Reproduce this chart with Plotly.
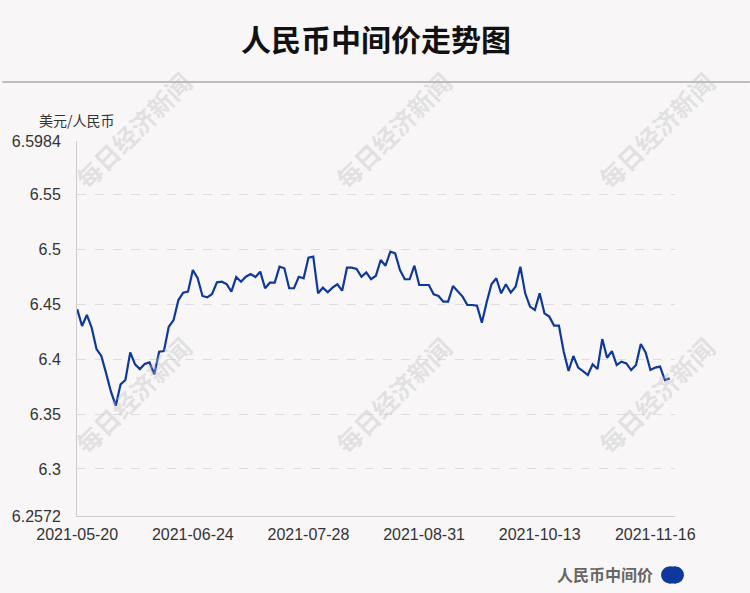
import pandas as pd
import plotly.graph_objects as go

# ---- data ----
holidays = ["2021-06-14", "2021-09-20", "2021-09-21", "2021-10-01",
            "2021-10-04", "2021-10-05", "2021-10-06", "2021-10-07"]
dates = [d.strftime("%Y-%m-%d") for d in pd.bdate_range("2021-05-20", "2021-11-19")
         if d.strftime("%Y-%m-%d") not in holidays]

rates = [
    6.4453, 6.4301, 6.4401, 6.4285, 6.4091, 6.4028, 6.3870, 6.3703, 6.3576, 6.3770,
    6.3809, 6.4061, 6.3952, 6.3909, 6.3955, 6.3970, 6.3861, 6.4067, 6.4073, 6.4294,
    6.4355, 6.4537, 6.4604, 6.4613, 6.4810, 6.4735, 6.4574, 6.4562, 6.4592, 6.4698,
    6.4704, 6.4683, 6.4613, 6.4746, 6.4704, 6.4749, 6.4774, 6.4746, 6.4795, 6.4644,
    6.4695, 6.4695, 6.4840, 6.4826, 6.4644, 6.4644, 6.4749, 6.4735, 6.4922, 6.4932,
    6.4598, 6.4649, 6.4607, 6.4649, 6.4680, 6.4622, 6.4831, 6.4831, 6.4819, 6.4749,
    6.4789, 6.4727, 6.4758, 6.4901, 6.4849, 6.4977, 6.4962, 6.4810, 6.4726, 6.4726,
    6.4849, 6.4674, 6.4674, 6.4674, 6.4589, 6.4574, 6.4522, 6.4522, 6.4665, 6.4613,
    6.4568, 6.4492, 6.4492, 6.4485, 6.4331, 6.4516, 6.4680, 6.4735, 6.4598, 6.4680,
    6.4604, 6.4658, 6.4840, 6.4598, 6.4477, 6.4446, 6.4598, 6.4416, 6.4386, 6.4304,
    6.4304, 6.4067, 6.3891, 6.4028, 6.3922, 6.3891, 6.3855, 6.3952, 6.3909, 6.4182,
    6.4012, 6.4073, 6.3946, 6.3976, 6.3961, 6.3900, 6.3946, 6.4137, 6.4061, 6.3900,
    6.3922, 6.3931, 6.3809, 6.3824,
]
n = min(len(dates), len(rates))
dates = dates[:n]
rates = rates[:n]

x_tick_labels = ["2021-05-20", "2021-06-24", "2021-07-28", "2021-08-31", "2021-10-13", "2021-11-16"]
y_tick_vals = [6.2572, 6.3, 6.35, 6.4, 6.45, 6.5, 6.55, 6.5984]
y_tick_text = ["6.2572", "6.3", "6.35", "6.4", "6.45", "6.5", "6.55", "6.5984"]
y_min, y_max = 6.2572, 6.5984

title_text = "人民币中间价走势图"
unit_text = "美元/人民币"
series_name = "人民币中间价"
watermark = "每日经济新闻"

BG = "#f9f6f7"
LINE = "#0f389d"
CJK = "Noto Sans CJK SC"
LAT = "Liberation Sans, Arial, sans-serif"

fig = go.Figure()
fig.add_trace(go.Scatter(
    x=dates, y=rates, mode="lines", name=series_name,
    line=dict(color=LINE, width=2.2), showlegend=False,
    hoverinfo="x+y",
))

W, H = 750, 593
L, R, T, B = 75, 75, 141, 77
pw, ph = W - L - R, H - T - B


def px(x):
    return (x - L) / pw


def py(y):
    return (H - B - y) / ph


annotations = []
# watermarks
for cx in (131, 392, 656):
    for cy in (130, 395):
        annotations.append(dict(
            text=watermark, xref="paper", yref="paper", x=px(cx), y=py(cy),
            showarrow=False, textangle=-45, xanchor="center", yanchor="middle",
            font=dict(family=CJK, size=25, color="rgba(190,190,190,0.38)", weight="bold"),
        ))

annotations += [
    dict(text="<b>" + title_text + "</b>", xref="paper", yref="paper", x=px(375), y=py(38),
         showarrow=False, xanchor="center", yanchor="middle",
         font=dict(family=CJK, size=30, color="#111111")),
    dict(text=unit_text, xref="paper", yref="paper", x=px(75), y=py(120),
         showarrow=False, xanchor="center", yanchor="middle",
         font=dict(family=CJK, size=14, color="#333333")),
    dict(text="<b>" + series_name + "</b>", xref="paper", yref="paper", x=px(655), y=py(574),
         showarrow=False, xanchor="right", yanchor="middle",
         font=dict(family=CJK, size=16, color="#666666")),
]

shapes = [
    dict(type="line", xref="paper", yref="paper", x0=px(0), x1=px(750), y0=py(82), y1=py(82),
         line=dict(color="#bdbdbd", width=2)),
    # legend pill
    dict(type="circle", xref="paper", yref="paper", x0=px(661), x1=px(678), y0=py(583.5), y1=py(566.5),
         fillcolor=LINE, line=dict(width=0)),
    dict(type="circle", xref="paper", yref="paper", x0=px(667), x1=px(684), y0=py(583.5), y1=py(566.5),
         fillcolor=LINE, line=dict(width=0)),
    dict(type="rect", xref="paper", yref="paper", x0=px(669), x1=px(676), y0=py(583.5), y1=py(566.5),
         fillcolor=LINE, line=dict(width=0)),
]

fig.update_layout(
    width=W, height=H,
    margin=dict(l=L, r=R, t=T, b=B, pad=0),
    paper_bgcolor=BG, plot_bgcolor=BG,
    annotations=annotations, shapes=shapes,
    font=dict(family=LAT, size=16, color="#333333"),
    hovermode="x",
)
fig.update_xaxes(
    type="category", range=[-0.05, 124.1],
    tickmode="array", tickvals=x_tick_labels, ticktext=x_tick_labels,
    showgrid=False, showline=True, linecolor="#cccccc", linewidth=1,
    ticks="", ticklabelstandoff=4, zeroline=False,
    tickfont=dict(family=LAT, size=16, color="#333333"),
)
fig.update_yaxes(
    range=[y_min, y_max], tickmode="array", tickvals=y_tick_vals, ticktext=y_tick_text,
    showgrid=True, gridcolor="#e0dcdd", griddash="dash", gridwidth=1,
    showline=True, linecolor="#cccccc", linewidth=1, zeroline=False,
    ticks="", ticklabelstandoff=12,
    tickfont=dict(family=LAT, size=16, color="#333333"),
)

fig.write_html(
    "out.html",
    config={"displayModeBar": False},
    post_script="document.body.style.margin='0px';document.body.style.padding='0px';"
                "document.body.style.background='" + BG + "';",
)
